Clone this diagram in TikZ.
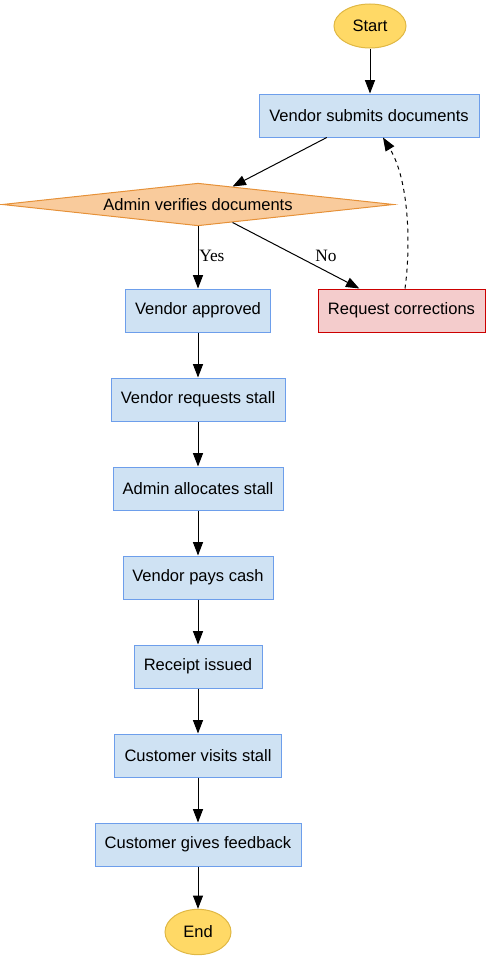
\documentclass[tikz,border=0pt]{standalone}
\usepackage{fontspec}
\setmainfont{Liberation Sans}
\newfontfamily\lblfont{Liberation Serif}
\usetikzlibrary{shapes.geometric,arrows.meta,calc}
\definecolor{boxfill}{HTML}{CFE2F3}
\definecolor{boxdraw}{HTML}{6D9EEB}
\definecolor{diafill}{HTML}{F9CB9C}
\definecolor{diadraw}{HTML}{E69138}
\definecolor{redfill}{HTML}{F4CCCC}
\definecolor{reddraw}{HTML}{CC0000}
\definecolor{ovalfill}{HTML}{FFD966}
\definecolor{ovaldraw}{HTML}{E0B844}
\tikzset{
  every node/.style={font=\fontsize{12.4}{15}\selectfont},
  procbox/.style={rectangle, draw=boxdraw, fill=boxfill, line width=0.75pt, inner sep=0pt, minimum height=32.25pt},
  redbox/.style={rectangle, draw=reddraw, fill=redfill, line width=0.75pt, inner sep=0pt, minimum height=32.25pt},
  oval/.style={ellipse, draw=ovaldraw, fill=ovalfill, line width=0.75pt, inner sep=0pt},
  decision/.style={diamond, aspect=9.16, draw=diadraw, fill=diafill, line width=0.75pt, inner sep=0pt, minimum width=293.5pt, minimum height=32pt},
  flow/.style={-{Triangle[length=10pt,width=7.5pt]}, line width=0.75pt},
  elabel/.style={font=\lblfont\fontsize{13}{15}\selectfont, inner sep=0pt}
}
\begin{document}
\begin{tikzpicture}[x=0.75pt,y=-0.75pt]
\useasboundingbox (0,0) rectangle (490,960);
\node[oval, minimum width=54pt, minimum height=33pt] (start) at (370,26) {Start};
\node[procbox, minimum width=165pt] (submit) at (369,115.5) {Vendor submits documents};
\node[decision] (verify) at (198,204.5) {Admin verifies documents};
\node[procbox, minimum width=108.75pt] (approved) at (198,310.5) {Vendor approved};
\node[redbox, minimum width=125.25pt] (correct) at (401.5,310.5) {Request corrections};
\node[procbox, minimum width=130.5pt] (reqstall) at (198,399.5) {Vendor requests stall};
\node[procbox, minimum width=127.5pt] (alloc) at (198,488.5) {Admin allocates stall};
\node[procbox, minimum width=112.5pt] (pays) at (198,577.5) {Vendor pays cash};
\node[procbox, minimum width=96pt] (receipt) at (198,666.5) {Receipt issued};
\node[procbox, minimum width=125.25pt] (visits) at (198,755.5) {Customer visits stall};
\node[procbox, minimum width=154.5pt] (feedback) at (198,844.5) {Customer gives feedback};
\node[oval, minimum width=49.5pt, minimum height=34pt] (end) at (198,932) {End};

\draw[flow] (start) -- (start |- submit.north);
\draw[flow] (submit) -- (verify);
\draw[flow] (verify) -- (approved);
\draw[flow] (verify) -- (correct);
\draw[flow, dashed] ($(correct.north)+(3.5,0)$) .. controls (411,245) and (409,180) .. ($(submit.south)+(14,0)$);
\draw[flow] (approved) -- (reqstall);
\draw[flow] (reqstall) -- (alloc);
\draw[flow] (alloc) -- (pays);
\draw[flow] (pays) -- (receipt);
\draw[flow] (receipt) -- (visits);
\draw[flow] (visits) -- (feedback);
\draw[flow] (feedback) -- (end);

\node[elabel, anchor=west] (yes) at (199,256) {Yes};
\node[elabel] (no) at (326,256) {No};
\end{tikzpicture}
\end{document}
